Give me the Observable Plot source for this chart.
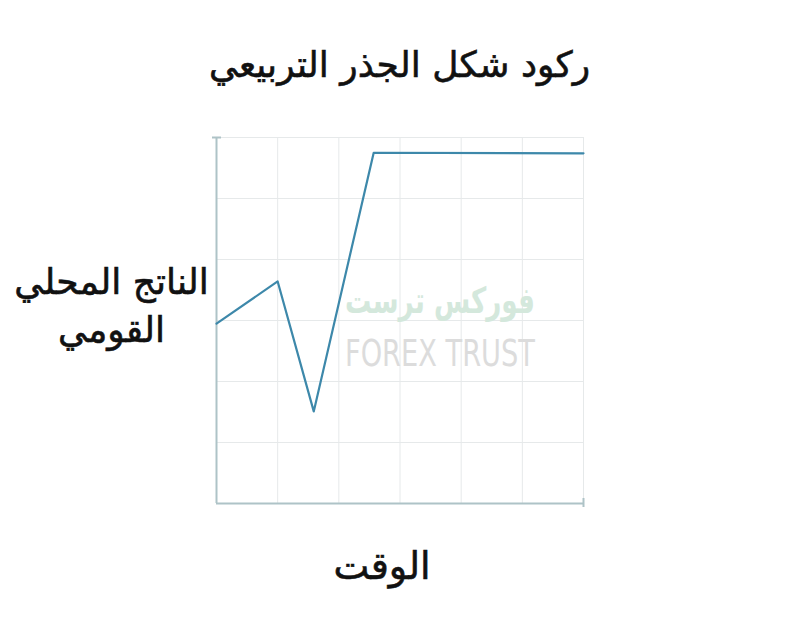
<!DOCTYPE html>
<html>
<head>
<meta charset="utf-8">
<script src="https://cdn.jsdelivr.net/npm/d3@7"></script>
<script src="https://cdn.jsdelivr.net/npm/@observablehq/plot@0.6"></script>
<style>
  html, body { margin: 0; padding: 0; background: #fff; }
  #wrap { position: relative; width: 799px; height: 641px; overflow: hidden; background: #fff; }
  .lbl { position: absolute; font-family: "DejaVu Sans", sans-serif; color: #111; direction: rtl; text-align: center; white-space: nowrap; -webkit-text-stroke: 0.6px #111; }
  #title { left: 0; width: 799px; top: 44px; font-size: 36px; }
  #ylab { left: 0; width: 223px; top: 258px; font-size: 36px; line-height: 48px; }
  #xlab { left: 282px; width: 200px; top: 544px; font-size: 38px; }
  #chart { position: absolute; left: 0; top: 0; }
</style>
</head>
<body>
<div id="wrap">
  <div id="chart"></div>
  <div class="lbl" id="title">ركود شكل الجذر التربيعي</div>
  <div class="lbl" id="ylab">الناتج المحلي<br>القومي</div>
  <div class="lbl" id="xlab">الوقت</div>
</div>
<script>
// Data
const time = [0, 1, 1.59, 2.57, 6];
const gdp  = [2.95, 3.64, 1.51, 5.75, 5.74];
const gridTicks = [0, 1, 2, 3, 4, 5, 6];
const watermarkAr = "فوركس ترست";
const watermarkEn = "FOREX TRUST";

const series = time.map((t, i) => ({t, v: gdp[i]}));

const chart = Plot.plot({
  width: 799,
  height: 641,
  marginLeft: 216,
  marginRight: 216,
  marginTop: 137,
  marginBottom: 138,
  style: {background: "transparent"},
  x: {domain: [0, 6], axis: null},
  y: {domain: [0, 6], axis: null},
  marks: [
    Plot.ruleX(gridTicks, {stroke: "#e6e9ea", strokeWidth: 1}),
    Plot.ruleY(gridTicks, {stroke: "#e6e9ea", strokeWidth: 1}),
    // watermark
    Plot.text([watermarkAr], {frameAnchor: "middle", dx: 40, dy: -19, text: d => d, fontSize: 36, fill: "#d4e8dc", fontFamily: "DejaVu Sans", fontWeight: "bold", className: "wm"}),
    Plot.text([watermarkEn], {frameAnchor: "middle", dx: 40, dy: 33, text: d => d, fontSize: 38, fill: "#dcdcdc", fontFamily: "DejaVu Sans Condensed", className: "wm"}),
    // axes
    Plot.ruleX([0], {stroke: "#aec3c7", strokeWidth: 2}),
    Plot.ruleY([0], {stroke: "#aec3c7", strokeWidth: 2}),
    Plot.ruleY([6], {x1: 0, x2: 0, insetLeft: -4, insetRight: -5, stroke: "#aec3c7", strokeWidth: 2}),
    Plot.ruleX([6], {y1: 0, y2: 0, insetTop: -5, insetBottom: -4, stroke: "#aec3c7", strokeWidth: 2}),
    // series
    Plot.line(series, {x: "t", y: "v", stroke: "#3d88aa", strokeWidth: 2.2})
  ]
});
d3.select(chart).selectAll(".wm text")
  .attr("textLength", 190)
  .attr("lengthAdjust", "spacingAndGlyphs");
document.getElementById("chart").appendChild(chart);
</script>
</body>
</html>
